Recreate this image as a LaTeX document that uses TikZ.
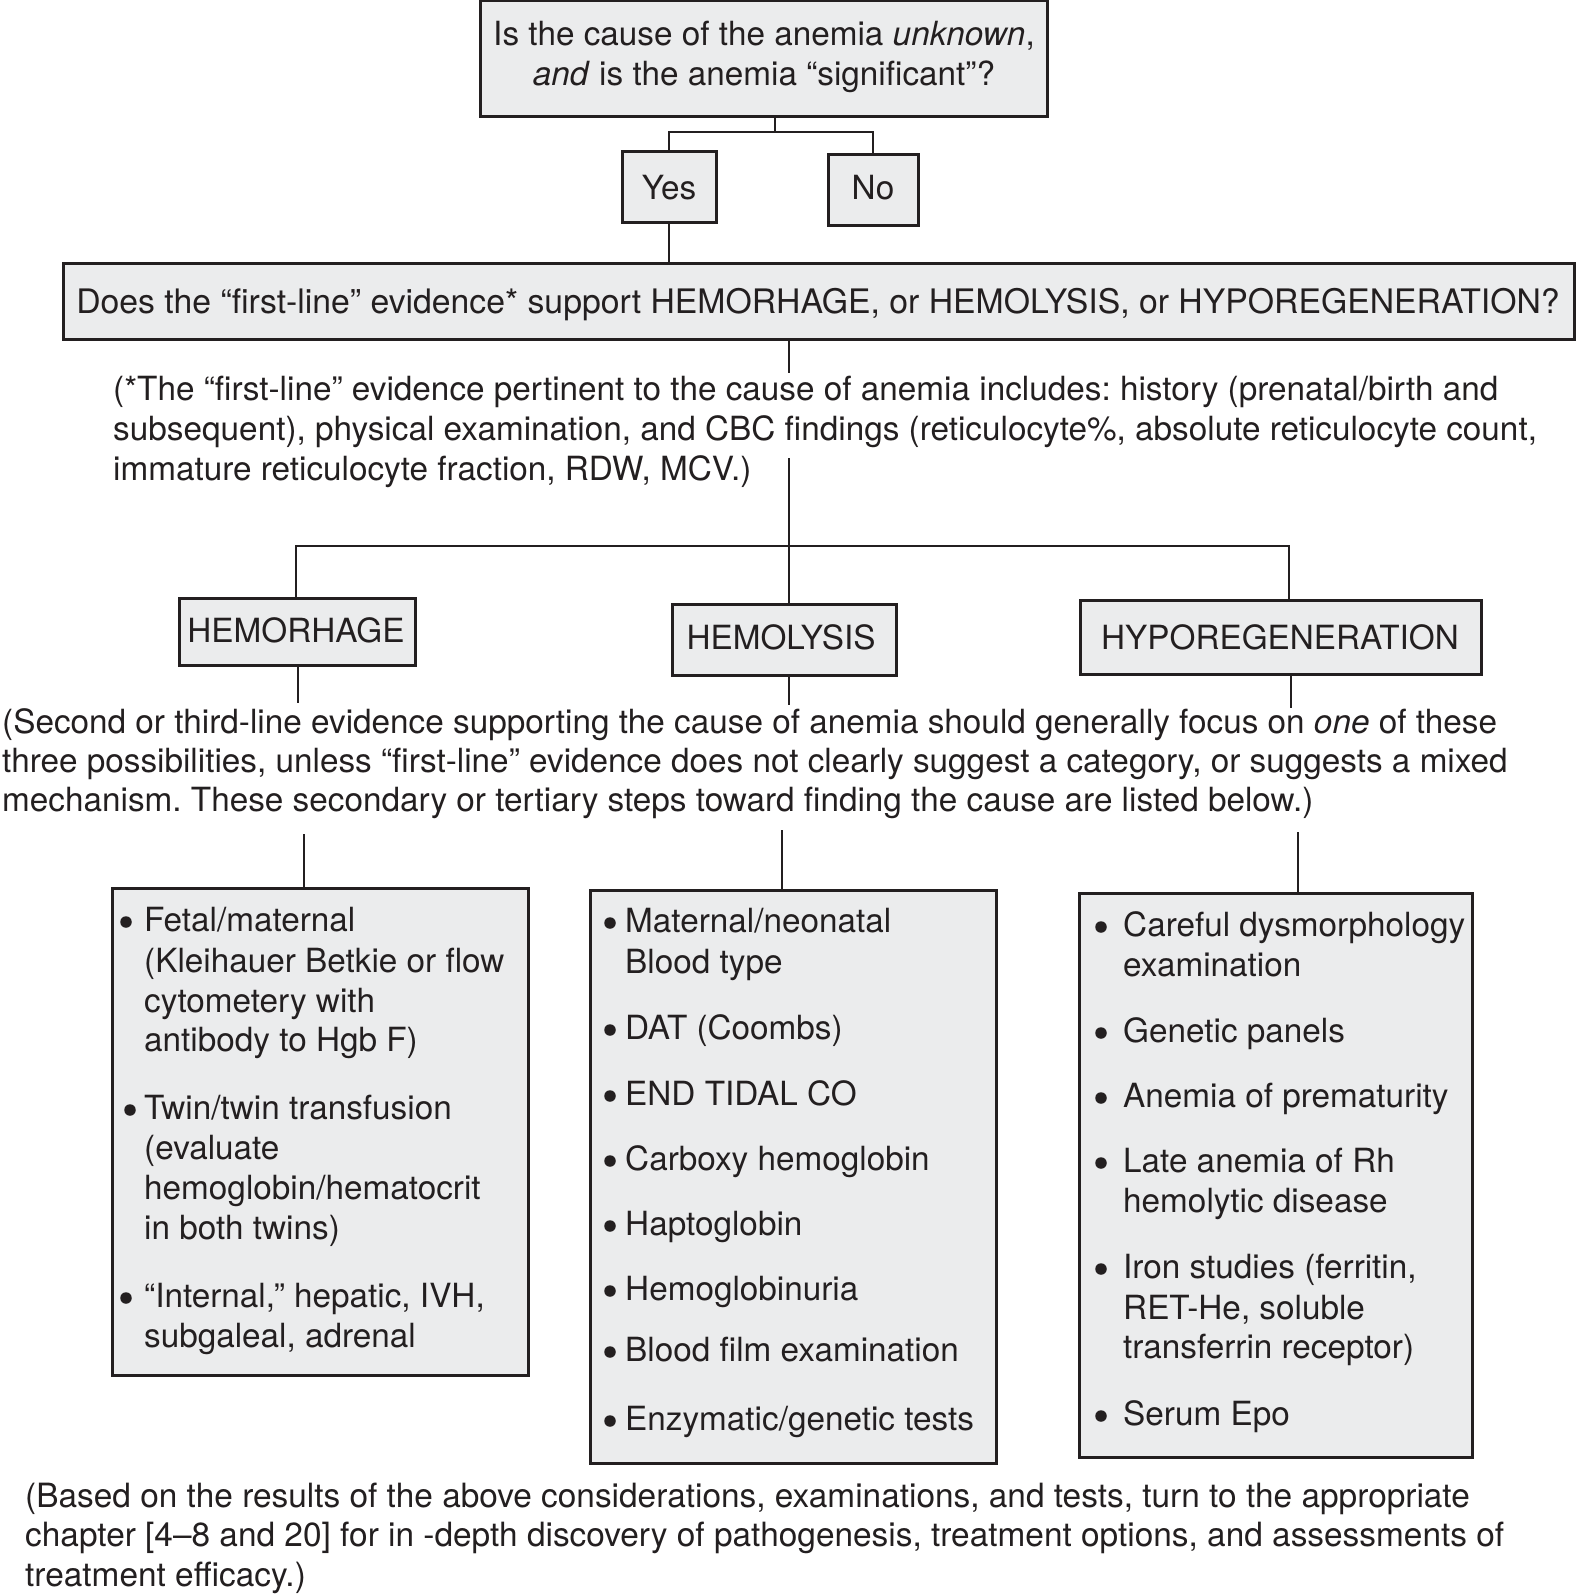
\documentclass[tikz,border=0pt]{standalone}
\usepackage{fontspec}
\setmainfont{TeX Gyre Heros}
\definecolor{boxfill}{HTML}{EBECED}
\definecolor{ink}{HTML}{231F20}
\frenchspacing
\begin{document}
\begin{tikzpicture}[x=1pt,y=-1pt,
  box/.style={draw=ink, line width=3pt, fill=boxfill, inner sep=0pt, rectangle},
  conn/.style={draw=ink, line width=2pt},
  txt/.style={inner sep=0pt, text=ink, font=\fontsize{33.3}{40}\selectfont\frenchspacing},
  lb/.style={txt, anchor=base west},
  ct/.style={txt, anchor=base},
  dot/.style={circle, fill=ink, inner sep=0pt, minimum size=11.5pt}]
\useasboundingbox[fill=white] (0,0) rectangle (1576,1594);

% boxes
\node[box, minimum width=567pt, minimum height=116pt] (q1) at (763.5,59) {};
\node[box, minimum width=94pt, minimum height=71pt] (yes) at (669,187.5) {};
\node[box, minimum width=90pt, minimum height=71pt] (no) at (873,190.5) {};
\node[box, minimum width=1511pt, minimum height=75pt] (q2) at (818.5,301.5) {};
\node[box, minimum width=236pt, minimum height=67pt] (hem) at (297,631.5) {};
\node[box, minimum width=224pt, minimum height=71pt] (hel) at (784,639.5) {};
\node[box, minimum width=401pt, minimum height=74pt] (hyp) at (1280.5,637) {};
\node[box, minimum width=416pt, minimum height=487pt] (boxA) at (320,1131.5) {};
\node[box, minimum width=406pt, minimum height=573pt] (boxB) at (793,1176.5) {};
\node[box, minimum width=393pt, minimum height=564pt] (boxC) at (1275.5,1175) {};

% box labels
\node[ct] (q1a) at (764,46) {Is the cause of the anemia \textit{unknown},};
\node[ct] (q1b) at (764,86) {\textit{and} is the anemia “significant”?};
\node[ct] (yesT) at (669,200) {Yes};
\node[ct] (noT) at (873,200) {No};
\node[ct, font=\fontsize{33.75}{40}\selectfont] (q2T) at (818,313) {Does the “first-line” evidence* support HEMORHAGE, or HEMOLYSIS, or HYPOREGENERATION?};
\node[ct] (hemT) at (296,642) {HEMORHAGE};
\node[ct] (helT) at (781,649) {HEMOLYSIS};
\node[ct] (hypT) at (1280,649) {HYPOREGENERATION};

% connectors
\coordinate (b1) at (775,132);
\draw[conn] (q1.south -| b1) -- (b1);
\draw[conn] (yes.north) |- (b1) -| (no.north);
\draw[conn] (yes.south) -- (yes.south |- q2.north);
\coordinate (s2) at (789,373);
\coordinate (s3) at (789,458);
\coordinate (bar) at (789,546);
\coordinate (barL) at (296,546);
\coordinate (barR) at (1289,546);
\draw[conn] (q2.south -| s2) -- (s2);
\draw[conn] (s3) -- (bar);
\draw[conn] (barL |- hem.north) -- (barL) -- (barR) -- (barR |- hyp.north);
\draw[conn] (bar) -- (bar |- hel.north);
\coordinate (d1) at (298,703);
\coordinate (d2) at (789,705);
\coordinate (d3) at (1291,708);
\draw[conn] (d1 |- hem.south) -- (d1);
\draw[conn] (d2 |- hel.south) -- (d2);
\draw[conn] (d3 |- hyp.south) -- (d3);
\coordinate (u1) at (304,834);
\coordinate (u2) at (782,830);
\coordinate (u3) at (1298,832);
\draw[conn] (u1) -- (u1 |- boxA.north);
\draw[conn] (u2) -- (u2 |- boxB.north);
\draw[conn] (u3) -- (u3 |- boxC.north);

% paragraph 1
\node[lb] (p1a) at (113,400) {(*The “first-line” evidence pertinent to the cause of anemia includes: history (prenatal/birth and};
\node[lb] (p1b) at (113,440) {subsequent), physical examination, and CBC findings (reticulocyte\%, absolute reticulocyte count,};
\node[lb] (p1c) at (113,480) {immature reticulocyte fraction, RDW, MCV.)};

% paragraph 2
\node[lb] (p2a) at (2,733) {(Second or third-line evidence supporting the cause of anemia should generally focus on \textit{one} of these};
\node[lb] (p2b) at (2,772) {three possibilities, unless “first-line” evidence does not clearly suggest a category, or suggests a mixed};
\node[lb] (p2c) at (2,811) {mechanism. These secondary or tertiary steps toward finding the cause are listed below.)};

% box A
\node[dot] (dA1) at (126,922) {};
\node[lb] (a1) at (144,931) {Fetal/maternal};
\node[lb] (a2) at (144,972) {(Kleihauer Betkie or flow};
\node[lb] (a3) at (144,1012) {cytometery with};
\node[lb] (a4) at (144,1051) {antibody to Hgb F)};
\node[dot] (dA2) at (130,1110) {};
\node[lb] (a5) at (144,1119) {Twin/twin transfusion};
\node[lb] (a6) at (144,1159) {(evaluate};
\node[lb] (a7) at (144,1199) {hemoglobin/hematocrit};
\node[lb] (a8) at (144,1239) {in both twins)};
\node[dot] (dA3) at (126,1298) {};
\node[lb] (a9) at (144,1307) {“Internal,” hepatic, IVH,};
\node[lb] (a10) at (144,1347) {subgaleal, adrenal};

% box B
\node[dot] (dB1) at (610,923) {};
\node[lb] (b1t) at (625,932) {Maternal/neonatal};
\node[lb] (b2t) at (625,973) {Blood type};
\node[dot] (dB2) at (610,1030) {};
\node[lb] (b3t) at (625,1039) {DAT (Coombs)};
\node[dot] (dB3) at (610,1096) {};
\node[lb] (b4t) at (625,1105) {END TIDAL CO};
\node[dot] (dB4) at (610,1161) {};
\node[lb] (b5t) at (625,1170) {Carboxy hemoglobin};
\node[dot] (dB5) at (610,1226) {};
\node[lb] (b6t) at (625,1235) {Haptoglobin};
\node[dot] (dB6) at (610,1291) {};
\node[lb] (b7t) at (625,1300) {Hemoglobinuria};
\node[dot] (dB7) at (610,1352) {};
\node[lb] (b8t) at (625,1361) {Blood film examination};
\node[dot] (dB8) at (610,1421) {};
\node[lb] (b9t) at (625,1430) {Enzymatic/genetic tests};

% box C
\node[dot] (dC1) at (1101,927) {};
\node[lb] (c1) at (1123,936) {Careful dysmorphology};
\node[lb] (c2) at (1123,976) {examination};
\node[dot] (dC2) at (1101,1033) {};
\node[lb] (c3) at (1123,1042) {Genetic panels};
\node[dot] (dC3) at (1101,1098) {};
\node[lb] (c4) at (1123,1107) {Anemia of prematurity};
\node[dot] (dC4) at (1101,1163) {};
\node[lb] (c5) at (1123,1172) {Late anemia of Rh};
\node[lb] (c6) at (1123,1212) {hemolytic disease};
\node[dot] (dC5) at (1101,1269) {};
\node[lb] (c7) at (1123,1278) {Iron studies (ferritin,};
\node[lb] (c8) at (1123,1319) {RET-He, soluble};
\node[lb] (c9) at (1123,1358) {transferrin receptor)};
\node[dot] (dC6) at (1101,1416) {};
\node[lb] (c10) at (1123,1425) {Serum Epo};

% final paragraph
\node[lb, font=\fontsize{33.4}{40}\selectfont] (f1) at (25,1507) {(Based on the results of the above considerations, examinations, and tests, turn to the appropriate};
\node[lb, font=\fontsize{33.4}{40}\selectfont] (f2) at (25,1546) {chapter [4–8 and 20] for in -depth discovery of pathogenesis, treatment options, and assessments of};
\node[lb, font=\fontsize{33.4}{40}\selectfont] (f3) at (25,1586) {treatment efficacy.)};
\end{tikzpicture}
\end{document}
